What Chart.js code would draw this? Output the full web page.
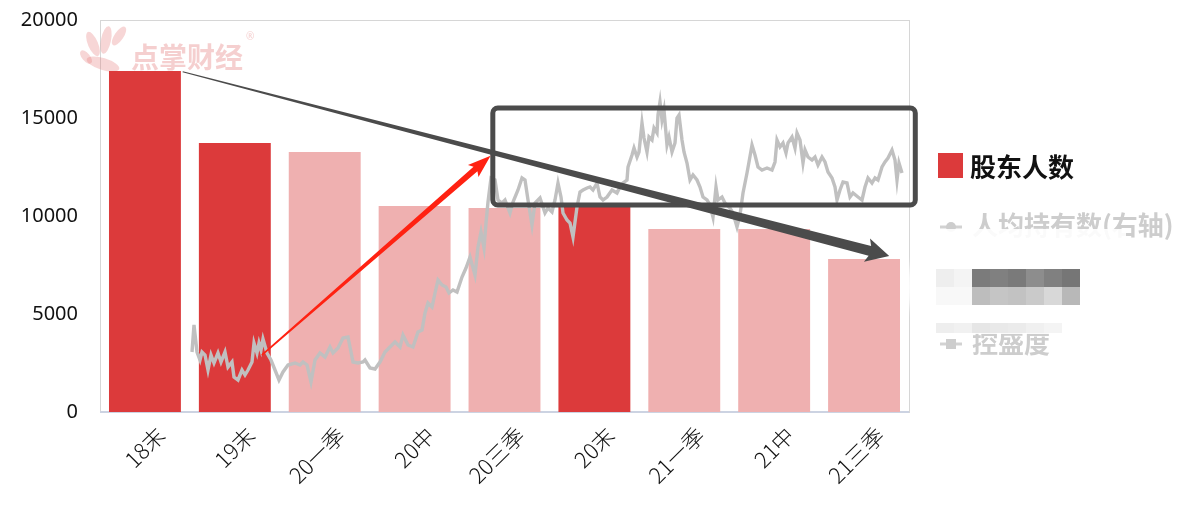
<!DOCTYPE html>
<html>
<head>
<meta charset="utf-8">
<script src="https://cdn.jsdelivr.net/npm/chart.js"></script>
<style>
  body { margin: 0; background: #fff; }
  #wrap { width: 1194px; height: 523px; position: relative; }
</style>
</head>
<body>
<div id="wrap"><canvas id="c"></canvas></div>
<script>
// 股东人数 per reporting period
const periods = ['18末', '19末', '20一季', '20中', '20三季', '20末', '21一季', '21中', '21三季'];
const holders = [17400, 13720, 13260, 10510, 10410, 10460, 9340, 9340, 7800];
const yearEnd = [true, true, false, false, false, true, false, false, false];
const yTicks = [0, 5000, 10000, 15000, 20000];

// price line, on hidden axes
const priceDays = [46,47,48.5,50,51,52.5,54,55.5,57,59,60.5,62.5,64,66,67,69,71,72.5,74,76,
  77,78.5,79.5,80.5,81.5,83.5,85.5,87.5,89.5,91.5,94,97.5,100,101.5,103.5,105.5,107.5,110,112.5,115,
  116.5,119,121.5,124,125,126.5,129,131.5,
  132.5,135,137.5,140,142.5,145,147.5,150,151.5,154,156.5,159,161,162.5,164,166,167.5,169,171,173,
  174.5,176.5,178.5,181,183,185,187.5,189,190.5,192,193,194,195.5,
  197.5,199,201,202.5,205,206.5,209,211,212.5,214,216,217.5,220,222.5,224,226,227.5,229,230.5,231.5,
  233.5,235,236.5,238.5,240,241.5,243.5,245,246.5,248.5,250,251.5,253.5,256,258.5,260,261.5,263.5,264,266,
  267,268.5,269.5,271,272,273.5,274.5,276,277,278.5,279,280,281,282,283.5,284.5,286,287.5,288.5,289.5,
  291,292,293.5,295,296.5,298.5,300,301.5,303.5,305,306.5,308,309,311,312.5,315,316.5,318.5,320,321.5,
  323.5,324.5,326,327.5,329,331,333.5,336,337.5,338.5,340,341.5,343,344,346,347.5,348.5,350,351.5,352.5,
  354,356,357.5,359,361,362.5,364,366,367.5,368.5,370,371.5,373.5,375,376.5,379,381,382.5,384,386,
  387.5,389,391,392.5,394,396,397.5,398.5,399.5,401];
const prices = [6.0,8.7,6.0,5.2,6.0,5.7,4.2,5.7,4.9,5.9,5.0,6.0,4.5,5.0,3.5,3.2,4.2,3.7,4.2,5.0,
  6.9,5.9,6.9,6.2,7.3,5.9,5.2,4.2,3.2,4.0,4.7,4.9,4.7,5.0,4.7,3.0,5.2,5.9,5.5,6.5,
  5.9,6.4,7.4,7.5,6.5,5.0,4.9,5.0,
  5.2,4.4,4.3,5.0,6.0,6.5,7.0,6.5,7.7,6.7,6.5,8.0,8.2,9.9,10.9,10.5,11.9,13.2,12.7,12.5,
  11.9,12.2,12.0,13.5,14.4,15.5,13.7,16.5,18.0,16.4,18.9,21.0,23.4,
  23.2,21.2,20.9,21.2,19.9,21.0,22.2,23.4,23.2,21.2,18.7,20.9,21.4,19.9,20.4,20.0,21.2,22.9,21.5,19.9,
  19.2,18.9,17.5,20.5,22.0,22.2,22.4,22.5,22.2,22.9,21.5,21.2,21.5,22.2,21.9,22.5,22.9,23.2,24.5,25.7,
  26.4,25.5,26.0,28.9,27.4,26.0,27.5,27.2,28.4,27.9,29.7,31.0,29.2,30.2,26.7,27.5,26.0,26.9,29.4,29.7,
  27.2,26.0,24.9,23.2,23.7,23.2,22.5,21.5,21.2,20.7,19.5,22.5,21.2,21.5,20.9,20.4,19.9,18.5,19.7,21.9,
  23.9,25.0,26.7,25.7,24.5,24.2,24.4,24.2,25.0,27.2,26.5,26.9,25.9,26.9,27.5,26.4,27.9,27.2,24.9,26.2,
  25.5,25.2,25.5,24.7,25.5,25.0,24.0,23.4,22.5,21.2,22.2,23.0,22.9,21.5,21.9,21.5,21.2,22.5,23.4,22.9,
  23.4,23.2,24.5,25.0,25.4,26.2,25.2,23.2,24.9,23.9];

const DARK = '#dc3a3b';
const LIGHT = '#efb0b0';

function taperArrow(ctx, x1, y1, x2, y2, w1, w2, headLen, headW, color) {
  const ang = Math.atan2(y2 - y1, x2 - x1);
  const len = Math.hypot(x2 - x1, y2 - y1);
  ctx.save();
  ctx.translate(x1, y1);
  ctx.rotate(ang);
  ctx.fillStyle = color;
  ctx.beginPath();
  ctx.moveTo(0, -w1 / 2);
  ctx.lineTo(len - headLen, -w2 / 2);
  ctx.lineTo(len - headLen - 3, -headW / 2);
  ctx.lineTo(len, 0);
  ctx.lineTo(len - headLen - 3, headW / 2);
  ctx.lineTo(len - headLen, w2 / 2);
  ctx.lineTo(0, w1 / 2);
  ctx.closePath();
  ctx.fill();
  ctx.restore();
}

const decor = {
  id: 'decor',
  beforeDatasetsDraw(chart) {
    const ctx = chart.ctx;
    const a = chart.chartArea;
    ctx.save();
    // frame
    ctx.strokeStyle = '#d6d6d6';
    ctx.lineWidth = 1;
    ctx.strokeRect(a.left + 0.5, a.top + 0.5, a.right - a.left, a.bottom - a.top);
    ctx.strokeStyle = '#ccd3e2';
    ctx.lineWidth = 2;
    ctx.beginPath();
    ctx.moveTo(a.left, a.bottom);
    ctx.lineTo(a.right, a.bottom);
    ctx.stroke();
    // watermark
    ctx.fillStyle = 'rgba(228,120,120,0.30)';
    [[93, 44, 5, 13, -0.4], [106, 40, 5, 14, 0.2], [119, 36, 4.5, 11, 0.6], [103, 64, 17, 6, 0.3], [86, 57, 4, 8, -0.7]]
      .forEach(e => { ctx.beginPath(); ctx.ellipse(e[0], e[1], e[2], e[3], e[4], 0, Math.PI * 2); ctx.fill(); });
    ctx.fillStyle = 'rgba(228,130,130,0.38)';
    ctx.font = 'bold 28px "Noto Sans CJK SC"';
    ctx.textBaseline = 'alphabetic';
    ctx.fillText('点掌财经', 131, 68);
    ctx.font = '10px "Noto Sans"';
    ctx.fillText('®', 246, 40);
    ctx.restore();
  },
  afterDatasetsDraw(chart) {
    const ctx = chart.ctx;
    const xs = chart.scales.x, ys = chart.scales.y;
    const px = v => xs.getPixelForValue(v);
    const py = v => ys.getPixelForValue(v);
    ctx.save();
    // box round the high price zone
    ctx.strokeStyle = '#4b4b4b';
    ctx.lineWidth = 5;
    ctx.beginPath();
    ctx.roundRect(px(3.87), py(15510), px(8.57) - px(3.87), py(10560) - py(15510), 5);
    ctx.stroke();
    // red arrow, price rise
    taperArrow(ctx, px(1.3), py(2900), px(3.845), py(13070), 1.5, 6, 20, 16, '#ff2212');
    // dark arrow, holders falling
    taperArrow(ctx, px(0.42), py(17360), px(8.28), py(7960), 1.2, 10, 20, 24, '#4b4b4b');
    ctx.restore();
  },
  afterDraw(chart) {
    const ctx = chart.ctx;
    ctx.save();
    // legend
    ctx.fillStyle = DARK;
    ctx.fillRect(938, 153, 25, 25);
    ctx.fillStyle = '#111';
    ctx.font = 'bold 26px "Noto Sans CJK SC"';
    ctx.textBaseline = 'middle';
    ctx.fillText('股东人数', 970, 167);

    ctx.fillStyle = '#cdcdcd';
    ctx.fillText('人均持有数(右轴)', 972, 225);
    ctx.fillText('控盛度', 972, 343);
    ctx.strokeStyle = '#d2d2d2';
    ctx.lineWidth = 3;
    ctx.beginPath(); ctx.moveTo(940, 227); ctx.lineTo(962, 227); ctx.stroke();
    ctx.beginPath(); ctx.arc(951, 227, 5, 0, Math.PI * 2); ctx.fillStyle = '#cdcdcd'; ctx.fill();
    ctx.beginPath(); ctx.moveTo(940, 344); ctx.lineTo(962, 344); ctx.stroke();
    ctx.fillRect(946, 339, 10, 10);

    // blurred cover
    ctx.filter = 'blur(3px)';
    ctx.fillStyle = '#fff';
    ctx.beginPath();
    ctx.ellipse(950, 287, 44, 46, 0, 0, Math.PI * 2);
    ctx.fill();
    ctx.filter = 'none';
    ctx.fillStyle = 'rgba(255,255,255,0.9)';
    ctx.fillRect(934, 229, 192, 22);
    ctx.fillRect(934, 322, 130, 12);
    const rowA = ['#eeeeee', '#f4f4f4', '#7b7b7b', '#808080', '#7a7a7a', '#8d8d8d', '#808080', '#767676'];
    const rowB = ['#f8f8f8', '#f8f8f8', '#bdbdbd', '#c5c5c5', '#c2c2c2', '#cacaca', '#d8d8d8', '#b8b8b8'];
    const rowC = ['#eeeeee', '#f1f1f1', '#e6e6e6', '#e9e9e9', '#ebebeb', '#f0f0f0', '#f4f4f4'];
    rowA.forEach((c, i) => { ctx.fillStyle = c; ctx.fillRect(936 + i * 18, 269, 18, 18); });
    rowB.forEach((c, i) => { ctx.fillStyle = c; ctx.fillRect(936 + i * 18, 287, 18, 18); });
    rowC.forEach((c, i) => { ctx.fillStyle = c; ctx.fillRect(936 + i * 18, 323, 18, 10); });
    ctx.restore();
  }
};

new Chart(document.getElementById('c'), {
  type: 'bar',
  data: {
    labels: periods,
    datasets: [
      {
        type: 'line',
        label: '股价',
        data: priceDays.map((d, i) => ({ x: d, y: prices[i] })),
        xAxisID: 'x2',
        yAxisID: 'y2',
        borderColor: '#c0c0c0',
        borderWidth: 3.4,
        pointRadius: 0,
        tension: 0,
        order: 0
      },
      {
        label: '股东人数',
        data: holders,
        backgroundColor: holders.map((v, i) => yearEnd[i] ? DARK : LIGHT),
        barPercentage: 0.8,
        categoryPercentage: 1.0,
        grouped: false,
        order: 1
      }
    ]
  },
  options: {
    responsive: true,
    maintainAspectRatio: false,
    animation: false,
    layout: { padding: { top: 20, right: 285, left: 0, bottom: 0 } },
    plugins: { legend: { display: false }, tooltip: { enabled: false } },
    scales: {
      x: {
        grid: { display: false },
        border: { display: false },
        ticks: {
          color: '#111',
          font: { family: '"Noto Sans CJK SC"', size: 22, weight: 300 },
          minRotation: 45,
          maxRotation: 45,
          labelOffset: 16,
          padding: 2
        },
        afterFit: s => { s.height = 111; }
      },
      y: {
        min: 0,
        max: 20000,
        grid: { display: false, drawTicks: true, tickLength: 22 },
        border: { display: false },
        afterBuildTicks: s => { s.ticks = yTicks.map(v => ({ value: v })); },
        ticks: {
          color: '#111',
          padding: 0,
          font: { family: '"Noto Sans"', size: 20 },
          callback: v => String(v)
        },
        afterFit: s => { s.width = 100; }
      },
      x2: { type: 'linear', display: false, offset: false, min: 0, max: 404.5 },
      y2: { display: false, min: 0, max: 39.2 }
    }
  },
  plugins: [decor]
});
</script>
</body>
</html>
